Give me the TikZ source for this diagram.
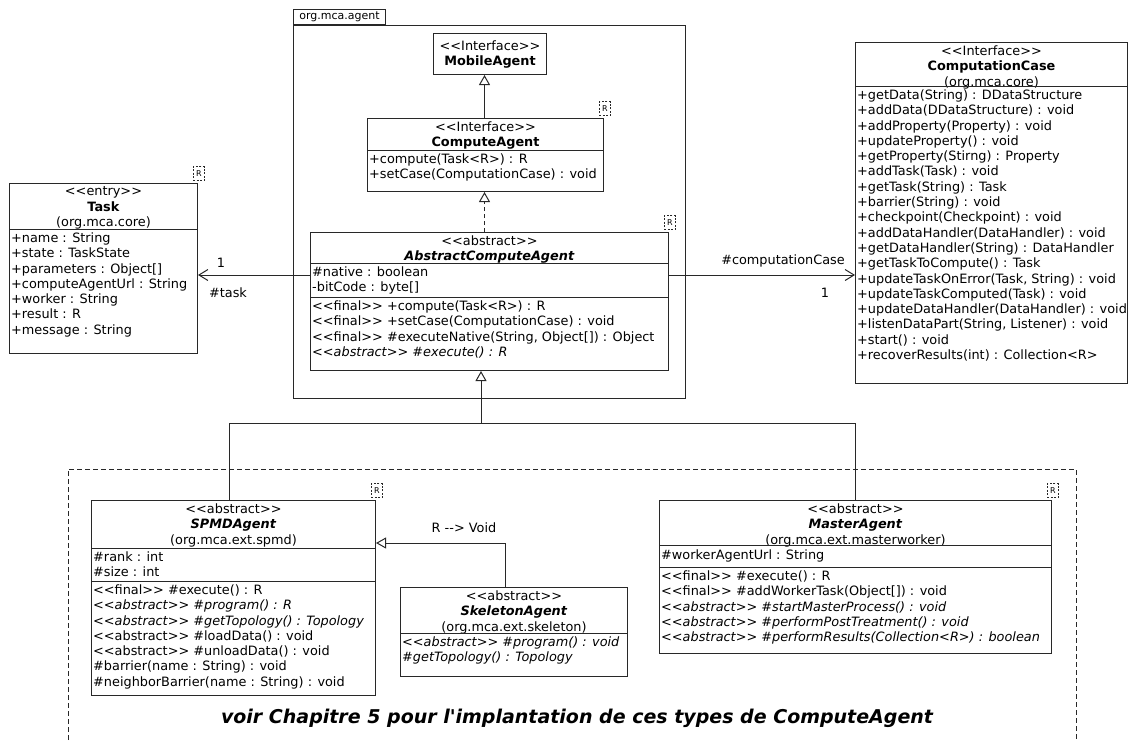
\documentclass[tikz,border=0pt]{standalone}
\usepackage{fontspec}
\setmainfont{DejaVu Sans}
\usetikzlibrary{arrows.meta,positioning,calc}
\definecolor{umlline}{RGB}{40,40,40}
\newcommand\umlfont{\fontsize{12.85}{15.3}\selectfont}
\newcommand\stereo[1]{<\kern0pt<#1>\kern0pt>}

\begin{document}
\begin{tikzpicture}[x=1pt,y=-1pt,
  umlbox/.style={draw=umlline,line width=1pt,anchor=north west,inner sep=0pt},
  umlhead/.style={anchor=north,align=center,inner xsep=0pt,inner ysep=3.5pt,font=\umlfont,
    execute at begin node=\strut},
  umltext/.style={anchor=north west,align=left,inner xsep=2pt,inner ysep=3.5pt,font=\umlfont,
    execute at begin node=\strut},
  umldiv/.style={draw=umlline,line width=1pt},
  rmark/.style={draw=umlline,dashed,dash pattern=on 2pt off 1.5pt,line width=0.8pt,anchor=south west,
    minimum width=11pt,minimum height=14pt,inner sep=0pt,font=\fontsize{8}{8}\selectfont},
  gen/.style={draw=umlline,line width=1pt,-{Triangle[open,length=10pt,width=11pt]}},
  real/.style={gen,dashed,dash pattern=on 4pt off 3pt},
  assoc/.style={draw=umlline,line width=1pt,-{Straight Barb[length=9pt,width=11pt]}},
  lbl/.style={font=\umlfont,inner sep=0pt}
]
  \useasboundingbox (0,0) rectangle (1130,740);

  % package org.mca.agent
  \node[umlbox,anchor=south west,minimum width=92pt,minimum height=15pt,
    font=\fontsize{11}{12}\selectfont] (pkgtab) at (293,25) {org.mca.agent};
  \node[umlbox,minimum width=392pt,minimum height=373pt] (pkg) at (293,25) {};

  % extension frame
  \draw[umlline,line width=1pt,dashed,dash pattern=on 5pt off 3pt] (68,740) |- (1076,469) -- (1076,740);

  % MobileAgent
  \node[umlbox,minimum width=113pt,minimum height=41pt] (mobile) at (433,33) {};
  \node[umlhead,yshift=-4pt] (mobilehd) at (mobile.north) {\stereo{Interface}\\\textbf{MobileAgent}};

  % ComputeAgent
  \node[umlbox,minimum width=236pt,minimum height=73pt] (compute) at (367,118) {};
  \node[umlhead] (computehd) at (compute.north) {\stereo{Interface}\\\textbf{ComputeAgent}};
  \draw[umldiv] ([yshift=-32pt]compute.north west) -- ([yshift=-32pt]compute.north east);
  \node[umltext] (computeop) at ([yshift=-32pt]compute.north west)
    {+compute(Task<R>) : R\\+setCase(ComputationCase) : void};
  \node[rmark] (computer) at ([shift={(-5pt,2pt)}]compute.north east) {R};

  % AbstractComputeAgent
  \node[umlbox,minimum width=358pt,minimum height=138pt] (aca) at (310,232) {};
  \node[umlhead] (acahd) at (aca.north) {\stereo{abstract}\\\textbf{\textit{AbstractComputeAgent}}};
  \draw[umldiv] ([yshift=-31pt]aca.north west) -- ([yshift=-31pt]aca.north east);
  \node[umltext] (acaat) at ([yshift=-31pt]aca.north west) {\#native : boolean\\-bitCode : byte[]};
  \draw[umldiv] ([yshift=-65pt]aca.north west) -- ([yshift=-65pt]aca.north east);
  \node[umltext] (acaop) at ([yshift=-65pt]aca.north west)
    {\stereo{final} +compute(Task<R>) : R\\
     \stereo{final} +setCase(ComputationCase) : void\\
     \stereo{final} \#executeNative(String, Object[]) : Object\\
     \textit{\stereo{abstract} \#execute() : R}};
  \node[rmark] (acar) at ([shift={(-5pt,2pt)}]aca.north east) {R};

  % Task
  \node[umlbox,minimum width=188pt,minimum height=170pt] (task) at (9,183) {};
  \node[umlhead] (taskhd) at (task.north) {\stereo{entry}\\\textbf{Task}\\(org.mca.core)};
  \draw[umldiv] ([yshift=-46pt]task.north west) -- ([yshift=-46pt]task.north east);
  \node[umltext] (taskat) at ([yshift=-46pt]task.north west)
    {+name : String\\+state : TaskState\\+parameters : Object[]\\+computeAgentUrl : String\\
     +worker : String\\+result : R\\+message : String};
  \node[rmark] (taskr) at ([shift={(-5pt,2pt)}]task.north east) {R};

  % ComputationCase
  \node[umlbox,minimum width=272pt,minimum height=341pt] (cc) at (855,42) {};
  \node[umlhead] (cchd) at (cc.north) {\stereo{Interface}\\\textbf{ComputationCase}\\(org.mca.core)};
  \draw[umldiv] ([yshift=-44pt]cc.north west) -- ([yshift=-44pt]cc.north east);
  \node[umltext] (ccop) at ([yshift=-44pt]cc.north west)
    {+getData(String) : DDataStructure\\+addData(DDataStructure) : void\\
     +addProperty(Property) : void\\+updateProperty() : void\\+getProperty(Stirng) : Property\\
     +addTask(Task) : void\\+getTask(String) : Task\\+barrier(String) : void\\
     +checkpoint(Checkpoint) : void\\+addDataHandler(DataHandler) : void\\
     +getDataHandler(String) : DataHandler\\+getTaskToCompute() : Task\\
     +updateTaskOnError(Task, String) : void\\+updateTaskComputed(Task) : void\\
     +updateDataHandler(DataHandler) : void\\+listenDataPart(String, Listener) : void\\
     +start() : void\\+recoverResults(int) : Collection<R>};

  % SPMDAgent
  \node[umlbox,minimum width=284pt,minimum height=195pt] (spmd) at (91,500) {};
  \node[umlhead] (spmdhd) at (spmd.north) {\stereo{abstract}\\\textbf{\textit{SPMDAgent}}\\(org.mca.ext.spmd)};
  \draw[umldiv] ([yshift=-48pt]spmd.north west) -- ([yshift=-48pt]spmd.north east);
  \node[umltext] (spmdat) at ([yshift=-48pt]spmd.north west) {\#rank : int\\\#size : int};
  \draw[umldiv] ([yshift=-81pt]spmd.north west) -- ([yshift=-81pt]spmd.north east);
  \node[umltext] (spmdop) at ([yshift=-81pt]spmd.north west)
    {\stereo{final} \#execute() : R\\
     \textit{\stereo{abstract} \#program() : R}\\
     \textit{\stereo{abstract} \#getTopology() : Topology}\\
     \stereo{abstract} \#loadData() : void\\
     \stereo{abstract} \#unloadData() : void\\
     \#barrier(name : String) : void\\
     \#neighborBarrier(name : String) : void};
  \node[rmark] (spmdr) at ([shift={(-5pt,2pt)}]spmd.north east) {R};

  % SkeletonAgent
  \node[umlbox,minimum width=227pt,minimum height=89pt] (skel) at (400,587) {};
  \node[umlhead] (skelhd) at (skel.north) {\stereo{abstract}\\\textbf{\textit{SkeletonAgent}}\\(org.mca.ext.skeleton)};
  \draw[umldiv] ([yshift=-46pt]skel.north west) -- ([yshift=-46pt]skel.north east);
  \node[umltext] (skelop) at ([yshift=-46pt]skel.north west)
    {\textit{\stereo{abstract} \#program() : void}\\\textit{\#getTopology() : Topology}};

  % MasterAgent
  \node[umlbox,minimum width=392pt,minimum height=153pt] (master) at (659,500) {};
  \node[umlhead] (masterhd) at (master.north) {\stereo{abstract}\\\textbf{\textit{MasterAgent}}\\(org.mca.ext.masterworker)};
  \draw[umldiv] ([yshift=-45pt]master.north west) -- ([yshift=-45pt]master.north east);
  \node[umltext] (masterat) at ([yshift=-45pt]master.north west) {\#workerAgentUrl : String};
  \draw[umldiv] ([yshift=-67pt]master.north west) -- ([yshift=-67pt]master.north east);
  \node[umltext] (masterop) at ([yshift=-67pt]master.north west)
    {\stereo{final} \#execute() : R\\
     \stereo{final} \#addWorkerTask(Object[]) : void\\
     \textit{\stereo{abstract} \#startMasterProcess() : void}\\
     \textit{\stereo{abstract} \#performPostTreatment() : void}\\
     \textit{\stereo{abstract} \#performResults(Collection<R>) : boolean}};
  \node[rmark] (masterr) at ([shift={(-5pt,2pt)}]master.north east) {R};

  % inheritance
  \draw[gen] ([xshift=-1pt]compute.north) -- ([xshift=-1pt]compute.north |- mobile.south);
  \draw[real] ([xshift=-5pt]aca.north) -- ([xshift=-5pt]aca.north |- compute.south);
  \coordinate (genjoin) at (481,423);
  \draw[gen] (genjoin) -- (genjoin |- aca.south);
  \draw[umlline,line width=1pt] ([xshift=-4pt]spmd.north) |- (genjoin);
  \draw[umlline,line width=1pt] (master.north) |- (genjoin);
  \coordinate (skelbend) at (505,543);
  \draw[gen] (skelbend |- skel.north) -- (skelbend) -- (skelbend -| spmd.east);
  \node[lbl] (rvoid) at (464,528) {R -\kern0pt-> Void};

  % associations
  \draw[assoc] ([yshift=-43pt]aca.north west) -- ([yshift=-43pt]aca.north west -| task.east);
  \node[lbl] (taskmul) at (221,263) {1};
  \node[lbl] (taskrole) at (228,293) {\#task};
  \draw[assoc] ([yshift=-43pt]aca.north east) -- ([yshift=-43pt]aca.north east -| cc.west);
  \node[lbl] (ccrole) at (783,261) {\#computationCase};
  \node[lbl] (ccmul) at (825,293) {1};

  % note
  \node[font=\fontsize{19}{21}\selectfont\bfseries\itshape] (note) at (577,718)
    {voir Chapitre 5 pour l\textquotesingle implantation de ces types de ComputeAgent};
\end{tikzpicture}
\end{document}
